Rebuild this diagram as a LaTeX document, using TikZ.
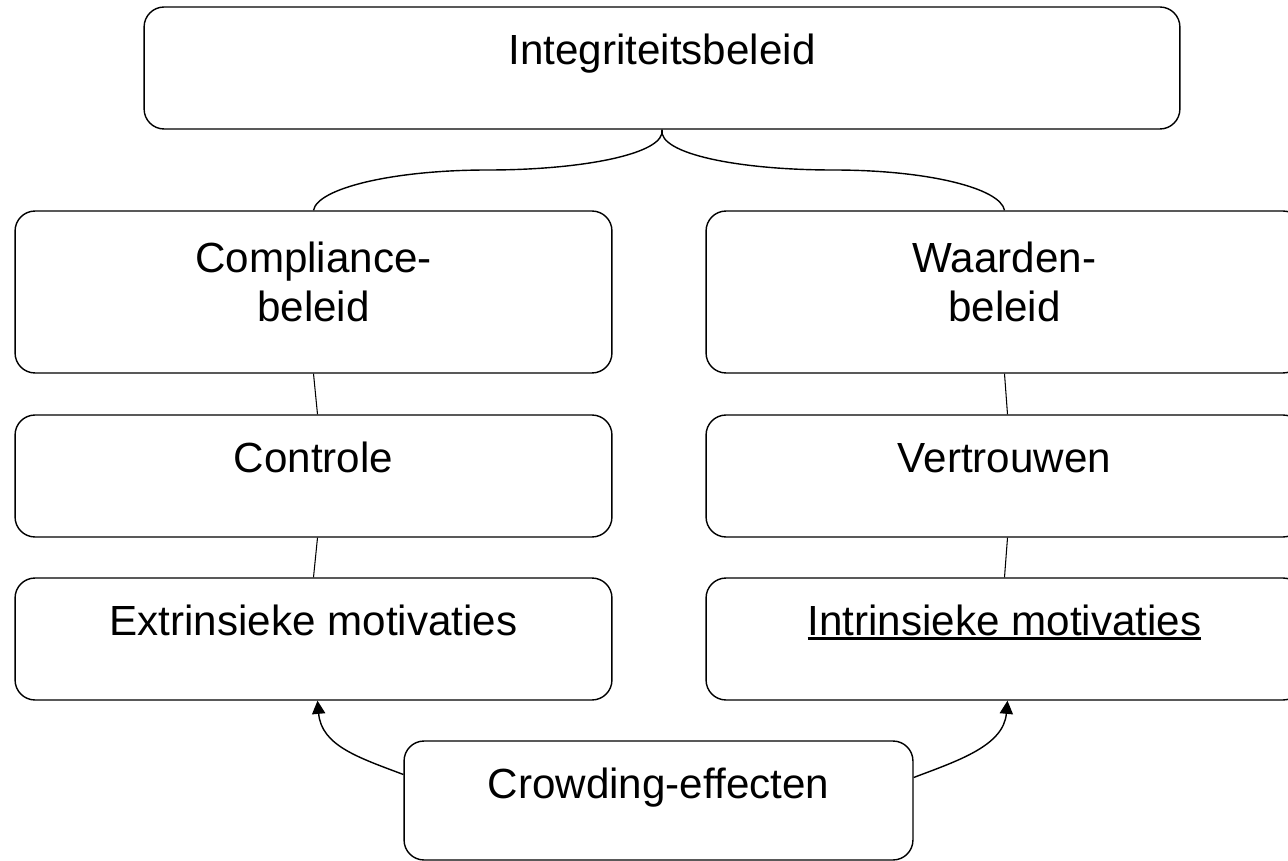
\documentclass[tikz,border=0pt]{standalone}
\usepackage{fontspec}
\setmainfont{Liberation Sans}
\usepackage{tikz}
\usetikzlibrary{arrows.meta,calc}
\newcommand{\underlinetxt}[1]{\setbox0\hbox{#1}\rlap{\rule[-0.12em]{\wd0}{0.075em}}\box0}

\begin{document}
\begin{tikzpicture}[x=0.02cm, y=-0.02cm,
    box/.style={draw, rounded corners=0.4cm, line width=0.8pt, inner sep=0pt,
      align=center, font=\fontsize{24}{28.45}\selectfont},
    wide/.style={box, minimum width=11.94cm, text height=1.14cm, text depth=1.30cm},
    twoline/.style={box, minimum width=11.94cm, text height=2.22cm, text depth=1.02cm},
    link/.style={line width=0.6pt},
    curly/.style={line width=0.8pt},
    push/.style={line width=0.8pt, -{Triangle[length=7.5pt, width=7.5pt]}}]
  \useasboundingbox (0,0) rectangle (1288,861);
  % top {{{
  \node[box, minimum width=20.72cm, text height=1.16cm, text depth=1.28cm] (integr) at (662,68) {Integriteitsbeleid};
  % }}}
  % two columns {{{
  \node[twoline] (compl) at (313.5,292) {Compliance-\\beleid};
  \node[twoline] (waard) at (1004.5,292) {Waarden-\\beleid};
  \node[wide] (contr) at (313.5,476) {Controle};
  \node[wide] (vertr) at (1004.5,476) {Vertrouwen};
  \node[wide] (extr) at (313.5,639) {Extrinsieke motivaties};
  \node[wide] (intr) at (1004.5,639) {\underlinetxt{Intrinsieke motivaties}};
  % }}}
  \node[box, minimum width=10.18cm, text height=1.14cm, text depth=1.24cm] (crowd) at (658.5,800.5) {Crowding-effecten};
  % brace {{{
  \draw[curly] (integr.south) .. controls +(4,24) and +(95,0) .. ($(integr.south)!0.5!(compl.north)$)
    .. controls +(-95,0) and +(4,-22) .. (compl.north);
  \draw[curly] (integr.south) .. controls +(-4,24) and +(-95,0) .. ($(integr.south)!0.5!(waard.north)$)
    .. controls +(95,0) and +(-4,-22) .. (waard.north);
  % }}}
  \draw[link] (compl.south) -- ($(contr.north)+(4,0)$);
  \draw[link] ($(contr.south)+(4,0)$) -- (extr.north);
  \draw[link] (waard.south) -- ($(vertr.north)+(3,0)$);
  \draw[link] ($(vertr.south)+(3,0)$) -- (intr.north);
  % crowding {{{
  \draw[push] ($(crowd.west)+(0,-26)$) .. controls +(-45,-17) and +(4,45) .. ($(extr.south)+(4,0)$);
  \draw[push] ($(crowd.east)+(0,-23)$) .. controls +(45,-17) and +(-4,45) .. ($(intr.south)+(3,0)$);
  % }}}
\end{tikzpicture}
\end{document}
